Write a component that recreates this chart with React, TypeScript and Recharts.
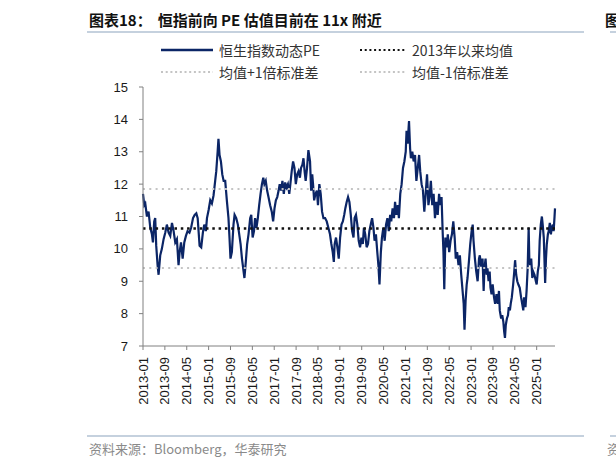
import { LineChart, Line, XAxis, YAxis, ReferenceLine } from 'recharts';

// 恒生指数动态PE（约半月一个点，按图读数）
const dates = [
  // 2013
  '2013-01-01', '2013-01-15', '2013-01-26', '2013-02-14', '2013-03-02', '2013-03-21', '2013-04-09', '2013-04-20',
  '2013-05-04', '2013-05-15', '2013-05-26', '2013-06-11', '2013-06-22', '2013-07-10', '2013-07-28', '2013-08-17',
  '2013-09-05', '2013-09-23', '2013-10-12', '2013-10-30', '2013-11-19', '2013-12-07', '2013-12-25',
  // 2014
  '2014-01-13', '2014-02-01', '2014-02-13', '2014-02-28', '2014-03-16', '2014-04-04', '2014-04-22', '2014-05-10',
  '2014-06-01', '2014-06-19', '2014-07-10', '2014-07-28', '2014-08-16', '2014-09-01', '2014-09-22', '2014-10-10',
  '2014-10-28', '2014-11-13', '2014-12-01', '2014-12-13',
  // 2015
  '2015-01-01', '2015-01-19', '2015-02-07', '2015-02-25', '2015-03-13', '2015-03-25', '2015-04-10', '2015-04-19',
  '2015-05-01', '2015-05-16', '2015-06-01', '2015-06-16', '2015-07-03', '2015-07-21', '2015-08-09', '2015-08-20',
  '2015-09-01', '2015-09-16', '2015-10-04', '2015-10-16', '2015-11-04', '2015-11-22', '2015-12-07', '2015-12-22',
  // 2016
  '2016-01-07', '2016-01-25', '2016-02-04', '2016-02-19', '2016-03-04', '2016-03-19', '2016-04-07', '2016-04-19',
  '2016-05-04', '2016-05-19', '2016-06-01', '2016-06-16', '2016-07-01', '2016-07-16', '2016-08-01', '2016-08-16',
  '2016-09-01', '2016-09-13', '2016-09-28', '2016-10-13', '2016-10-28', '2016-11-16', '2016-12-04', '2016-12-19',
  // 2017
  '2017-01-04', '2017-01-19', '2017-02-04', '2017-02-19', '2017-03-01', '2017-03-16', '2017-04-01', '2017-04-16',
  '2017-05-01', '2017-05-16', '2017-06-01', '2017-06-16', '2017-06-28', '2017-07-13', '2017-07-28', '2017-08-13',
  '2017-08-28', '2017-09-13', '2017-09-28', '2017-10-13', '2017-10-25', '2017-11-10', '2017-11-22', '2017-12-04',
  '2017-12-16',
  // 2018
  '2018-01-01', '2018-01-16', '2018-02-04', '2018-02-16', '2018-02-28', '2018-03-07', '2018-03-19', '2018-04-04',
  '2018-04-19', '2018-05-01', '2018-05-16', '2018-06-01', '2018-06-16', '2018-07-01', '2018-07-19', '2018-08-07',
  '2018-08-25', '2018-09-13', '2018-09-28', '2018-10-13', '2018-10-25', '2018-11-04', '2018-11-19', '2018-12-04',
  '2018-12-19',
  // 2019
  '2019-01-04', '2019-01-19', '2019-02-04', '2019-02-19', '2019-03-01', '2019-03-16', '2019-04-01', '2019-04-16',
  '2019-05-01', '2019-05-16', '2019-06-01', '2019-06-13', '2019-06-28', '2019-07-13', '2019-07-28', '2019-08-13',
  '2019-08-28', '2019-09-13', '2019-09-25', '2019-10-10', '2019-10-25', '2019-11-10', '2019-11-25', '2019-12-10',
  '2019-12-25',
  // 2020
  '2020-01-10', '2020-01-22', '2020-02-07', '2020-02-22', '2020-03-04', '2020-03-16', '2020-04-01', '2020-04-13',
  '2020-04-28', '2020-05-13', '2020-05-28', '2020-06-13', '2020-06-28', '2020-07-13', '2020-07-25', '2020-08-10',
  '2020-08-25', '2020-09-07', '2020-09-22', '2020-10-07', '2020-10-19', '2020-11-04', '2020-11-19', '2020-12-04',
  '2020-12-19',
  // 2021
  '2021-01-04', '2021-01-13', '2021-01-25', '2021-02-10', '2021-02-22', '2021-03-01', '2021-03-16', '2021-04-01',
  '2021-04-16', '2021-05-01', '2021-05-16', '2021-06-01', '2021-06-13', '2021-06-28', '2021-07-13', '2021-07-28',
  '2021-08-13', '2021-08-28', '2021-09-13', '2021-09-25', '2021-10-10', '2021-10-25', '2021-11-10', '2021-11-25',
  '2021-12-10', '2021-12-25',
  // 2022
  '2022-01-10', '2022-01-22', '2022-02-07', '2022-02-19', '2022-02-28', '2022-03-07', '2022-03-19', '2022-04-04',
  '2022-04-16', '2022-05-01', '2022-05-16', '2022-06-01', '2022-06-16', '2022-07-01', '2022-07-13', '2022-07-28',
  '2022-08-13', '2022-08-28', '2022-09-13', '2022-09-28', '2022-10-10', '2022-10-19', '2022-11-01', '2022-11-13',
  '2022-11-22', '2022-12-07', '2022-12-22',
  // 2023
  '2023-01-07', '2023-01-19', '2023-01-28', '2023-02-13', '2023-02-28', '2023-03-13', '2023-03-28', '2023-04-07',
  '2023-04-22', '2023-05-07', '2023-05-19', '2023-05-28', '2023-06-10', '2023-06-22', '2023-07-01', '2023-07-13',
  '2023-07-25', '2023-08-04', '2023-08-16', '2023-08-28', '2023-09-13', '2023-09-25', '2023-10-10', '2023-10-25',
  '2023-11-07', '2023-11-16', '2023-12-01', '2023-12-13', '2023-12-25',
  // 2024
  '2024-01-04', '2024-01-13', '2024-01-22', '2024-02-04', '2024-02-16', '2024-02-25', '2024-03-07', '2024-03-16',
  '2024-03-28', '2024-04-13', '2024-04-25', '2024-05-04', '2024-05-16', '2024-05-28', '2024-06-10', '2024-06-25',
  '2024-07-10', '2024-07-22', '2024-08-04', '2024-08-13', '2024-08-28', '2024-09-10', '2024-09-22', '2024-10-03',
  '2024-10-10', '2024-10-19', '2024-11-01', '2024-11-13', '2024-11-22', '2024-12-07', '2024-12-22',
  // 2025
  '2025-01-01', '2025-01-13', '2025-01-25', '2025-02-04', '2025-02-16', '2025-02-28', '2025-03-07', '2025-03-19',
  '2025-04-04', '2025-04-13', '2025-04-22', '2025-05-04', '2025-05-13', '2025-05-25', '2025-06-07', '2025-06-16',
  '2025-06-28', '2025-07-07', '2025-07-16', '2025-07-22',
];

const peValues = [
  // 2013
  11.7, 11.35, 11.4, 11.0, 11.15, 10.65, 10.45, 10.2,
  10.85, 10.95, 10.1, 9.5, 9.2, 9.8, 10.0, 10.3,
  10.5, 10.75, 10.5, 10.4, 10.8, 10.55, 10.2,
  // 2014
  10.3, 9.5, 9.9, 10.2, 9.7, 10.2, 10.4, 10.55,
  10.5, 10.65, 10.95, 11.05, 11.1, 10.95, 10.1, 10.05,
  10.5, 10.75, 10.55, 10.95,
  // 2015
  11.2, 11.5, 11.4, 11.65, 12.1, 12.4, 13.0, 13.4,
  12.9, 12.7, 12.3, 12.1, 12.1, 11.5, 10.95, 10.35,
  9.7, 9.9, 10.75, 11.05, 10.95, 10.75, 10.45, 10.15,
  // 2016
  9.7, 9.3, 9.1, 9.6, 10.15, 10.45, 10.95, 11.05,
  10.35, 10.55, 10.95, 10.65, 10.95, 11.35, 11.7, 12.0,
  12.2, 12.0, 12.1, 11.8, 11.6, 11.35, 11.15, 10.85,
  // 2017
  11.25, 11.5, 11.6, 11.8, 12.0, 11.8, 12.1, 11.7,
  12.05, 11.9, 12.0, 11.7, 12.0, 12.4, 12.7, 12.5,
  12.0, 12.3, 12.4, 12.2, 12.5, 12.6, 12.8, 12.4,
  12.1,
  // 2018
  12.5, 13.05, 12.7, 11.8, 12.3, 12.0, 11.5, 11.7,
  11.8, 11.35, 12.0, 11.7, 11.15, 10.95, 10.95, 10.85,
  10.65, 10.45, 10.15, 9.9, 9.6, 10.15, 10.35, 10.05,
  9.7,
  // 2019
  10.35, 10.75, 10.85, 11.05, 11.25, 11.45, 11.6, 11.45,
  11.05, 10.55, 10.35, 10.95, 11.05, 10.75, 10.25, 10.05,
  10.35, 10.15, 10.65, 10.45, 10.05, 10.15, 10.55, 10.75,
  10.95,
  // 2020
  10.65, 10.25, 10.45, 9.9, 9.5, 8.9, 9.9, 10.35,
  10.65, 10.25, 10.75, 10.95, 10.55, 11.05, 10.85, 11.25,
  10.95, 11.45, 11.05, 11.35, 10.95, 11.7, 12.0, 12.5,
  12.7,
  // 2021
  13.0, 13.65, 13.25, 13.95, 13.1, 12.8, 13.0, 12.7,
  12.9, 12.1, 12.5, 12.9, 12.4, 12.0, 11.8, 11.15,
  11.7, 12.3, 11.35, 11.6, 12.1, 11.35, 11.7, 10.95,
  11.45, 11.05,
  // 2022
  11.7, 11.35, 11.6, 10.55, 9.9, 8.75, 10.35, 10.05,
  10.45, 9.9, 10.25, 10.45, 10.85, 10.35, 9.7, 9.9,
  9.5, 9.8, 9.2, 8.7, 8.3, 7.5, 8.4, 8.9,
  9.1, 9.6, 10.15,
  // 2023
  10.55, 10.75, 10.25, 9.7, 9.3, 9.0, 9.7, 9.8,
  9.45, 9.7, 8.7, 9.4, 9.7, 9.2, 9.4, 9.0,
  9.3, 8.8, 8.6, 8.9, 8.5, 8.3, 8.6, 8.3,
  8.7, 8.1, 7.85, 7.95, 7.75,
  // 2024
  7.45, 7.25, 7.65, 7.85, 7.95, 8.2, 8.1, 8.3,
  8.5, 8.9, 9.3, 9.65, 9.2, 9.0, 8.9, 8.8,
  8.5, 8.3, 8.1, 8.5, 8.2, 8.7, 9.4, 10.65,
  9.7, 9.5, 9.7, 9.1, 9.3, 9.2, 9.0,
  // 2025
  8.9, 9.3, 9.5, 10.25, 10.75, 11.0, 10.75, 10.35,
  8.95, 9.7, 10.15, 10.45, 10.55, 10.8, 10.45, 10.65,
  10.75, 10.55, 10.95, 11.25,
];

const xTickLabels = [
  '2013-01', '2013-09', '2014-05', '2015-01', '2015-09', '2016-05', '2017-01', '2017-09', '2018-05', '2019-01',
  '2019-09', '2020-05', '2021-01', '2021-09', '2022-05', '2023-01', '2023-09', '2024-05', '2025-01',
];
const yTicks = [7, 8, 9, 10, 11, 12, 13, 14, 15];

// 2013年以来均值及 ±1 倍标准差
const meanPE = 10.63;
const stdPE = 1.22;

const NAVY = '#0b2566';
const FONT = '"Liberation Sans", Arial, "Noto Sans CJK SC", sans-serif';
const CJK = '"Noto Sans CJK SC", "Liberation Sans", sans-serif';

// 以 2013-01 为 0 的月份序号
const toMonthIndex = (d: string) => {
  const [y, m, day] = d.split('-').map(Number);
  return (y - 2013) * 12 + (m - 1) + ((day || 1) - 1) / 30;
};

const chartData = dates.map((d, i) => ({ t: toMonthIndex(d), pe: peValues[i] }));
const xTicks = xTickLabels.map((l) => toMonthIndex(l));

const DateTick = ({ x, y, payload }: any) => {
  const idx = xTicks.findIndex((t) => Math.abs(t - payload.value) < 1e-6);
  return (
    <text
      transform={`translate(${x},${y + 5}) rotate(-90)`}
      textAnchor="end"
      dominantBaseline="central"
      fontSize={13}
      fontFamily={FONT}
      fill="#1a1a1a"
    >
      {xTickLabels[idx] ?? ''}
    </text>
  );
};

const LegendItem = ({ left, top, label, color, dotted, width }: any) => (
  <div style={{ position: 'absolute', left, top, height: 18, display: 'flex', alignItems: 'center' }}>
    <svg width={width} height={6} style={{ marginRight: 6 }}>
      <line
        x1={0}
        y1={3}
        x2={width}
        y2={3}
        stroke={color}
        strokeWidth={dotted ? 2 : 2.5}
        strokeDasharray={dotted ? '2 2.7' : undefined}
      />
    </svg>
    <span style={{ fontFamily: CJK, fontSize: 14, color: '#333', whiteSpace: 'nowrap' }}>{label}</span>
  </div>
);

export default function App() {
  return (
    <div
      style={{
        position: 'absolute',
        left: 0,
        top: 0,
        width: 616,
        height: 466,
        overflow: 'hidden',
        background: '#fff',
      }}
    >
      {/* 标题 */}
      <div
        style={{
          position: 'absolute',
          left: 89,
          top: 9,
          fontFamily: CJK,
          fontWeight: 700,
          fontSize: 15,
          color: '#111',
          whiteSpace: 'nowrap',
        }}
      >
        图表18：<span style={{ marginLeft: 6 }}>恒指前向 PE 估值目前在 11x 附近</span>
      </div>
      <div
        style={{
          position: 'absolute',
          left: 605,
          top: 9,
          fontFamily: CJK,
          fontWeight: 700,
          fontSize: 15,
          color: '#111',
          whiteSpace: 'nowrap',
        }}
      >
        图表
      </div>
      <div style={{ position: 'absolute', left: 87, top: 31, width: 497, height: 2, background: '#c5d1de' }} />
      <div style={{ position: 'absolute', left: 610, top: 31, width: 10, height: 2, background: '#c5d1de' }} />

      {/* 图例 */}
      <LegendItem left={161} top={41} width={52} label="恒生指数动态PE" color={NAVY} />
      <LegendItem left={360} top={41} width={46} label="2013年以来均值" color="#111" dotted />
      <LegendItem left={161} top={63} width={52} label="均值+1倍标准差" color="#c4c4c4" dotted />
      <LegendItem left={360} top={63} width={46} label="均值-1倍标准差" color="#c4c4c4" dotted />

      <div style={{ position: 'absolute', left: 0, top: 0 }}>
        <LineChart width={616} height={466} data={chartData} margin={{ top: 87, right: 61, bottom: 0, left: 103 }}>
          <XAxis
            type="number"
            dataKey="t"
            domain={[0, 150.7]}
            ticks={xTicks}
            interval={0}
            tick={<DateTick />}
            tickSize={4}
            height={120}
            stroke="#808080"
          />
          <YAxis
            type="number"
            domain={[7, 15]}
            ticks={yTicks}
            interval={0}
            width={40}
            tickSize={4}
            tickMargin={11}
            stroke="#808080"
            tick={{ fill: '#1a1a1a', fontSize: 13, fontFamily: FONT }}
          />
          <Line
            type="linear"
            dataKey="pe"
            stroke={NAVY}
            strokeWidth={2.2}
            dot={false}
            activeDot={false}
            isAnimationActive={false}
          />
          <ReferenceLine y={meanPE + stdPE} stroke="#c4c4c4" strokeWidth={2} strokeDasharray="2 4.3" />
          <ReferenceLine y={meanPE - stdPE} stroke="#c4c4c4" strokeWidth={2} strokeDasharray="2 4.3" />
          <ReferenceLine y={meanPE} stroke="#111" strokeWidth={2.5} strokeDasharray="2.5 3.8" />
        </LineChart>
      </div>

      {/* 资料来源 */}
      <div style={{ position: 'absolute', left: 87, top: 435, width: 497, height: 2, background: '#c5d1de' }} />
      <div style={{ position: 'absolute', left: 610, top: 435, width: 10, height: 2, background: '#c5d1de' }} />
      <div
        style={{
          position: 'absolute',
          left: 89,
          top: 439,
          fontFamily: CJK,
          fontSize: 13,
          color: '#8a8a8a',
          whiteSpace: 'nowrap',
        }}
      >
        资料来源：Bloomberg，华泰研究
      </div>
      <div
        style={{
          position: 'absolute',
          left: 607,
          top: 439,
          fontFamily: CJK,
          fontSize: 13,
          color: '#8a8a8a',
          whiteSpace: 'nowrap',
        }}
      >
        资料
      </div>
    </div>
  );
}
